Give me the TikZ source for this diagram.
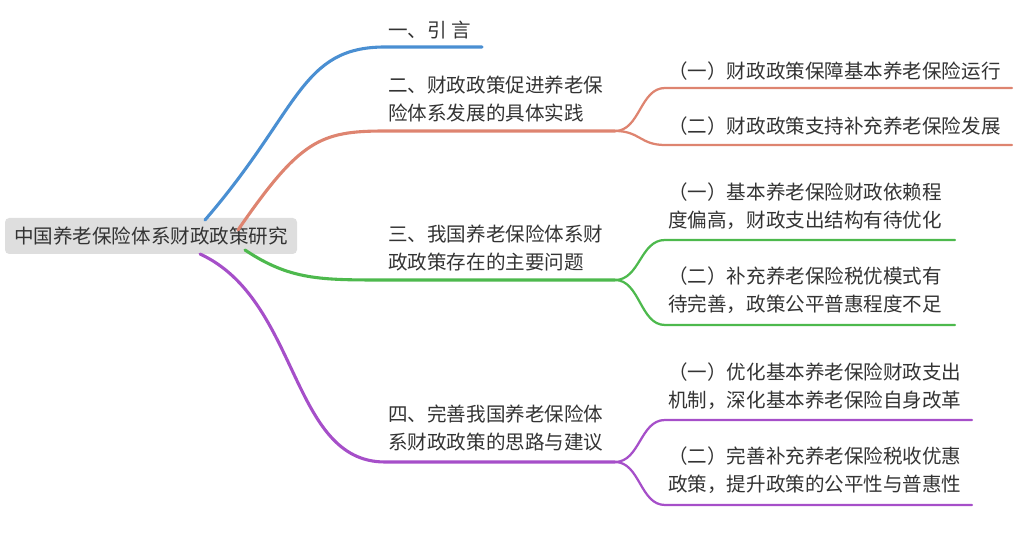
\documentclass[tikz,border=0pt]{standalone}
\usepackage{fontspec}
\newfontfamily\cjk{Noto Sans CJK SC}
\definecolor{cb}{HTML}{4A8FD2}
\definecolor{co}{HTML}{DE8470}
\definecolor{cg}{HTML}{4DB94D}
\definecolor{cp}{HTML}{A64FC9}
\definecolor{tx}{HTML}{333333}
\begin{document}
\begin{tikzpicture}[x=0.025cm,y=-0.025cm,
  lbl/.style={anchor=west,font=\cjk\fontsize{13.9}{20}\selectfont,text=tx,align=left,inner sep=0pt},
  main/.style={line width=2.2pt,line cap=round},
  sub/.style={line width=1.6pt,line cap=round}]
\useasboundingbox (0,0) rectangle (1020,536);
\node[fill=black!13,rounded corners=3pt,minimum width=292*0.025cm,minimum height=36*0.025cm,font=\cjk\fontsize{13.9}{16}\selectfont,text=tx] (root) at (151,236) {中国养老保险体系财政政策研究};
% blue
\coordinate (b0) at (205,220); \coordinate (b1) at (385,47); \coordinate (b2) at (482,47);
\draw[main,cb] (b0) .. controls (300,110) and (300,47) .. (b1) -- (b2);
\node[lbl] (t1) at (388,30) {一、引\ 言};
% orange
\coordinate (o0) at (238,230); \coordinate (o1) at (385,131); \coordinate (o2) at (615,131);
\draw[main,co] (o0) .. controls (300,140) and (320,131) .. (o1) -- (o2);
\node[lbl] (t2) at (388,99) {二、财政政策促进养老保\\险体系发展的具体实践};
\coordinate (o3) at (665,88); \coordinate (o4) at (1012,88);
\coordinate (o5) at (665,145); \coordinate (o6) at (1012,145);
\draw[sub,co] (o2) .. controls (640,131) and (640,88) .. (o3) -- (o4);
\draw[sub,co] (o2) .. controls (640,131) and (640,145) .. (o5) -- (o6);
\node[lbl] (t21) at (668,71) {（一）财政政策保障基本养老保险运行};
\node[lbl] (t22) at (668,126) {（二）财政政策支持补充养老保险发展};
% green
\coordinate (g0) at (245,250); \coordinate (g1) at (385,280); \coordinate (g2) at (615,280);
\draw[main,cg] (g0) .. controls (290,280) and (320,280) .. (g1) -- (g2);
\node[lbl] (t3) at (388,248) {三、我国养老保险体系财\\政政策存在的主要问题};
\coordinate (g3) at (665,240); \coordinate (g4) at (955,240);
\coordinate (g5) at (665,325); \coordinate (g6) at (955,325);
\draw[sub,cg] (g2) .. controls (640,280) and (640,240) .. (g3) -- (g4);
\draw[sub,cg] (g2) .. controls (640,280) and (640,325) .. (g5) -- (g6);
\node[lbl] (t31) at (668,206) {（一）基本养老保险财政依赖程\\度偏高，财政支出结构有待优化};
\node[lbl] (t32) at (668,290) {（二）补充养老保险税优模式有\\待完善，政策公平普惠程度不足};
% purple
\coordinate (p0) at (200,254); \coordinate (p1) at (385,462); \coordinate (p2) at (615,462);
\draw[main,cp] (p0) .. controls (300,300) and (290,462) .. (p1) -- (p2);
\node[lbl] (t4) at (388,428) {四、完善我国养老保险体\\系财政政策的思路与建议};
\coordinate (p3) at (665,420); \coordinate (p4) at (972,420);
\coordinate (p5) at (665,505); \coordinate (p6) at (972,505);
\draw[sub,cp] (p2) .. controls (640,462) and (640,420) .. (p3) -- (p4);
\draw[sub,cp] (p2) .. controls (640,462) and (640,505) .. (p5) -- (p6);
\node[lbl] (t41) at (668,386) {（一）优化基本养老保险财政支出\\机制，深化基本养老保险自身改革};
\node[lbl] (t42) at (668,470) {（二）完善补充养老保险税收优惠\\政策，提升政策的公平性与普惠性};
\end{tikzpicture}
\end{document}
